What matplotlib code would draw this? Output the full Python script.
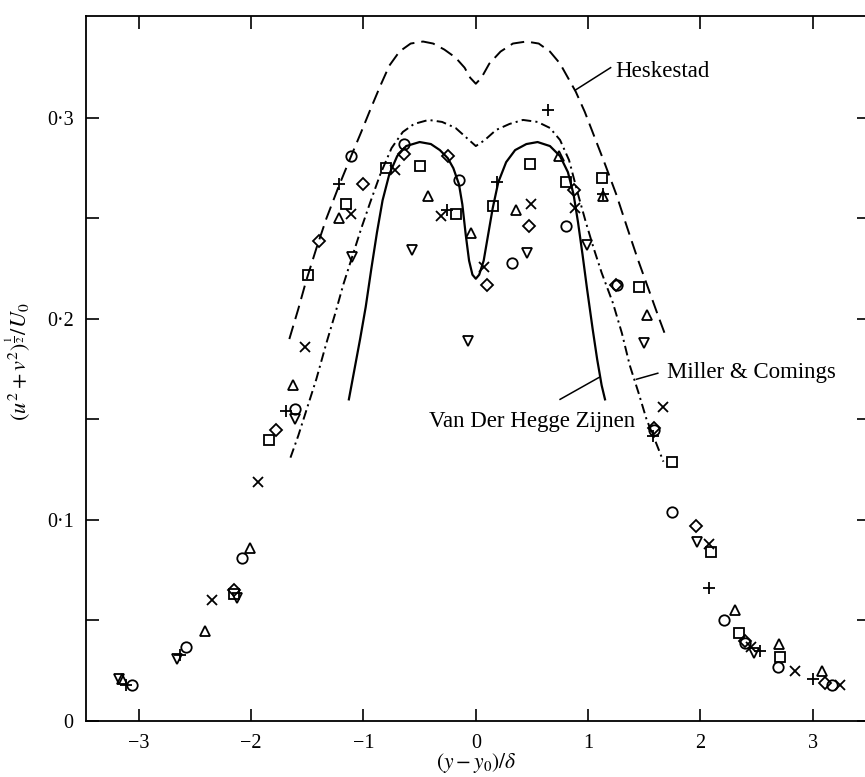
import matplotlib
matplotlib.use('Agg')
import matplotlib.pyplot as plt

plt.rcParams['font.family'] = ['Liberation Serif', 'DejaVu Serif']
plt.rcParams['mathtext.fontset'] = 'stix'
plt.rcParams['lines.scale_dashes'] = False

# model curves
hesk_x = [-1.66, -1.58, -1.51, -1.42, -1.33, -1.22, -1.11, -1.02, -0.94, -0.85, -0.77, -0.68,
          -0.58, -0.47, -0.38, -0.28, -0.18, -0.10, -0.05, 0.00, 0.05, 0.12, 0.22, 0.33, 0.45,
          0.56, 0.66, 0.75, 0.82, 0.89, 0.97, 1.06, 1.15, 1.25, 1.35, 1.44, 1.53, 1.62, 1.70]
hesk_y = [0.190, 0.205, 0.219, 0.235, 0.250, 0.266, 0.281, 0.293, 0.304, 0.316, 0.326, 0.333,
          0.337, 0.338, 0.337, 0.334, 0.330, 0.325, 0.320, 0.317, 0.320, 0.327, 0.333, 0.337, 0.338,
          0.337, 0.333, 0.327, 0.320, 0.313, 0.303, 0.290, 0.277, 0.262, 0.245, 0.230, 0.216, 0.202, 0.190]

mc_x = [-1.65, -1.58, -1.50, -1.42, -1.33, -1.25, -1.18, -1.10, -1.02, -0.94, -0.85, -0.75,
        -0.65, -0.55, -0.42, -0.30, -0.18, -0.08, 0.00, 0.08, 0.18, 0.30, 0.42, 0.55, 0.66,
        0.75, 0.83, 0.91, 0.98, 1.05, 1.12, 1.22, 1.30, 1.37, 1.45, 1.52, 1.60, 1.67]
mc_y = [0.131, 0.142, 0.156, 0.170, 0.188, 0.203, 0.217, 0.231, 0.245, 0.258, 0.272, 0.285,
        0.293, 0.297, 0.299, 0.298, 0.295, 0.290, 0.286, 0.289, 0.294, 0.297, 0.299, 0.298, 0.295,
        0.289, 0.279, 0.262, 0.248, 0.235, 0.223, 0.208, 0.193, 0.177, 0.163, 0.150, 0.139, 0.129]

vdh_x = [-1.13, -1.08, -1.03, -0.98, -0.93, -0.88, -0.83, -0.77, -0.70, -0.62, -0.50, -0.40,
         -0.32, -0.25, -0.20, -0.15, -0.12, -0.09, -0.06, -0.03, 0.00, 0.03, 0.07, 0.11, 0.15,
         0.20, 0.27, 0.35, 0.45, 0.55, 0.66, 0.75, 0.82, 0.87, 0.91, 0.95, 0.99, 1.04, 1.08,
         1.12, 1.15]
vdh_y = [0.160, 0.175, 0.190, 0.206, 0.225, 0.243, 0.259, 0.272, 0.281, 0.286, 0.288, 0.287,
         0.284, 0.280, 0.275, 0.267, 0.257, 0.242, 0.229, 0.222, 0.220, 0.222, 0.229, 0.242, 0.255,
         0.268, 0.278, 0.284, 0.287, 0.288, 0.286, 0.281, 0.273, 0.262, 0.248, 0.232, 0.215, 0.195, 0.180,
         0.167, 0.160]

# measurements, one list per symbol
circ_x = [-3.06, -2.58, -2.08, -1.61, -1.11, -0.64, -0.15, 0.32, 0.80, 1.26, 1.59, 1.75, 2.21, 2.40, 2.69, 3.17]
circ_y = [0.018, 0.037, 0.081, 0.155, 0.281, 0.287, 0.269, 0.228, 0.246, 0.217, 0.145, 0.104, 0.050, 0.039, 0.027, 0.018]

sq_x = [-2.15, -1.84, -1.49, -1.16, -0.80, -0.50, -0.18, 0.15, 0.48, 0.80, 1.12, 1.45, 1.75, 2.09, 2.34, 2.71]
sq_y = [0.063, 0.140, 0.222, 0.257, 0.275, 0.276, 0.252, 0.256, 0.277, 0.268, 0.270, 0.216, 0.129, 0.084, 0.044, 0.032]

tri_x = [-3.15, -2.41, -2.01, -1.63, -1.22, -0.43, -0.04, 0.36, 0.74, 1.13, 1.52, 2.31, 2.70, 3.08]
tri_y = [0.021, 0.045, 0.086, 0.167, 0.250, 0.261, 0.243, 0.254, 0.281, 0.261, 0.202, 0.055, 0.0385, 0.025]

dtri_x = [-3.18, -2.66, -2.13, -1.61, -1.10, -0.57, -0.07, 0.46, 0.99, 1.50, 1.97, 2.48]
dtri_y = [0.021, 0.031, 0.061, 0.150, 0.231, 0.2345, 0.189, 0.233, 0.237, 0.188, 0.089, 0.034]

dia_x = [-2.15, -1.78, -1.40, -1.00, -0.64, -0.25, 0.10, 0.47, 0.87, 1.25, 1.59, 1.96, 2.40, 3.11]
dia_y = [0.065, 0.145, 0.239, 0.267, 0.282, 0.281, 0.217, 0.246, 0.264, 0.217, 0.146, 0.097, 0.040, 0.019]

plus_x = [-3.11, -2.63, -1.69, -1.22, -0.26, 0.19, 0.64, 1.13, 1.58, 2.08, 2.53, 3.00]
plus_y = [0.018, 0.033, 0.154, 0.267, 0.254, 0.268, 0.304, 0.262, 0.142, 0.066, 0.035, 0.021]

cross_x = [-2.35, -1.94, -1.52, -1.11, -0.72, -0.31, 0.07, 0.49, 0.88, 1.67, 2.08, 2.45, 2.84, 3.24]
cross_y = [0.060, 0.119, 0.186, 0.252, 0.274, 0.251, 0.226, 0.257, 0.255, 0.156, 0.088, 0.037, 0.025, 0.018]

x_ticks = [-3, -2, -1, 0, 1, 2, 3]
x_ticklabels = ['\u22123', '\u22122', '\u22121', '0', '1', '2', '3']
y_ticks = [0, 0.1, 0.2, 0.3]
y_ticklabels = ['0', '0\u00b71', '0\u00b72', '0\u00b73']
y_minor = [0.05, 0.15, 0.25]


def main():
    fig = plt.figure(figsize=(8.65, 7.77), dpi=100)
    ax = fig.add_axes([86 / 865, 56 / 777, 783 / 865, 705 / 777])

    lw = 1.4
    ax.plot(hesk_x, hesk_y, color='black', lw=lw, dashes=(10, 5))
    ax.plot(mc_x, mc_y, color='black', lw=lw, dashes=(7, 3, 1.5, 3))
    ax.plot(vdh_x, vdh_y, color='black', lw=lw + 0.2)

    kw = dict(linestyle='none', color='black', mfc='none', mec='black', mew=1.3)
    ax.plot(circ_x, circ_y, marker='o', ms=7.5, **kw)
    ax.plot(sq_x, sq_y, marker='s', ms=6.5, **kw)
    ax.plot(tri_x, tri_y, marker='^', ms=7.5, **kw)
    ax.plot(dtri_x, dtri_y, marker='v', ms=7.5, **kw)
    ax.plot(dia_x, dia_y, marker='D', ms=6, **kw)
    ax.plot(plus_x, plus_y, marker='+', ms=9, **kw)
    ax.plot(cross_x, cross_y, marker='x', ms=7, **kw)

    # curve labels with short leader lines
    fs = 16.5
    ax.plot([0.89, 1.20], [0.314, 0.325], color='black', lw=1.1)
    ax.text(1.24, 0.323, 'Heskestad', fontsize=fs, va='center', ha='left')
    ax.plot([1.43, 1.62], [0.170, 0.173], color='black', lw=1.1)
    ax.text(1.70, 0.1736, 'Miller & Comings', fontsize=fs, va='center', ha='left')
    ax.plot([0.75, 1.10], [0.160, 0.171], color='black', lw=1.1)
    ax.text(1.42, 0.149, 'Van Der Hegge Zijnen', fontsize=fs, va='center', ha='right')

    ax.set_xlim(-3.47, 3.50)
    ax.set_ylim(0, 0.3507)
    ax.set_xticks(x_ticks)
    ax.set_xticklabels(x_ticklabels, fontsize=14.5)
    ax.set_yticks(y_ticks)
    ax.set_yticklabels(y_ticklabels, fontsize=14.5)
    ax.set_yticks(y_minor, minor=True)
    ax.tick_params(which='both', direction='in', length=9, width=1.2,
                   top=True, right=True, pad=9)

    for s in ax.spines.values():
        s.set_linewidth(1.3)

    fig.text(476 / 865, 1 - 763 / 777, r'$(y-y_0)/\delta$', fontsize=15.5,
             ha='center', va='center')
    fig.text(18 / 865, 1 - 362 / 777, r'$(u^2+v^2)^{\frac{1}{2}}/U_0$', fontsize=16,
             ha='center', va='center', rotation=90)

    fig.savefig('out.png', dpi=100)


if __name__ == '__main__':
    main()
